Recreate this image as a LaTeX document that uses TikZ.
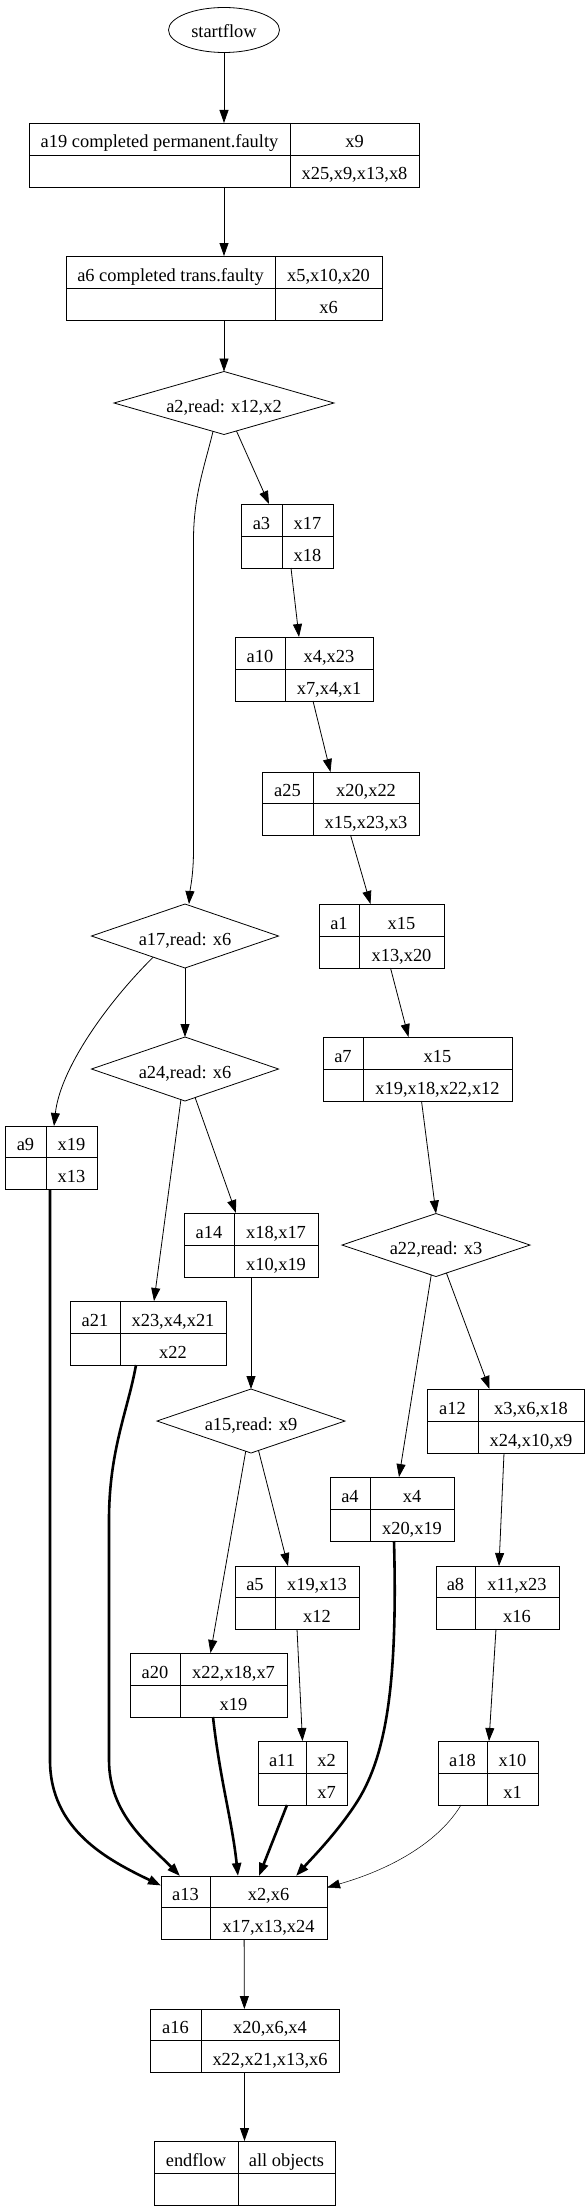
\documentclass[tikz,border=0pt]{standalone}
\usepackage{fontspec}
\setmainfont{Liberation Serif}
\usetikzlibrary{shapes.geometric,arrows.meta,calc}

\newcommand{\recnode}[9]{
	\node[rec, minimum width={(#4-#2)*1pt}, minimum height={(#5-#3)*1pt}] (#1) at ({(#2+#4)/2},{(#3+#5)/2}) {};
	\draw[cell] (#1.west) -- (#1.east);
	\draw[cell] (#6,#3) -- (#6,#5);
	\node[celltext] (#1l) at ({(#2+#6)/2},{(3*#3+#5)/4}) {#7};
	\node[celltext] (#1t) at ({(#6+#4)/2},{(3*#3+#5)/4}) {#8};
	\node[celltext] (#1b) at ({(#6+#4)/2},{(#3+3*#5)/4}) {#9};
}

\begin{document}
\begin{tikzpicture}[x=1pt, y=-1pt, font=\fontsize{18.4}{22}\selectfont,
		rec/.style={draw, line width=0.9pt, inner sep=0pt, outer sep=0pt},
		cell/.style={line width=0.9pt},
		celltext/.style={inner sep=0pt, text height=18pt, text depth=0pt},
		cond/.style={draw, shape=diamond, aspect=3, line width=0.8pt, inner sep=0pt, outer sep=0pt, text height=18pt, text depth=0pt},
		start/.style={draw, shape=ellipse, line width=0.8pt, inner sep=0pt, outer sep=0pt, text height=16pt, text depth=0pt},
		flow/.style={-{Triangle[length=13pt,width=9pt]}, line width=0.8pt},
		bold/.style={flow, line width=2.6pt},
		faint/.style={flow, line width=0.5pt}]
		\useasboundingbox (0,0) rectangle (585,2210);

		\node[start, minimum width=111pt, minimum height=45pt] (startflow) at (224,30) {startflow};

		\recnode{a19}{29}{123}{419}{187}{290}{a19 completed permanent.faulty}{x9}{x25,x9,x13,x8}
		\recnode{a6}{66}{256}{382}{320}{275}{a6 completed trans.faulty}{x5,x10,x20}{x6}
		\recnode{a3}{241}{504}{333}{568}{282}{a3}{x17}{x18}
		\recnode{a10}{235}{637}{373}{701}{285}{a10}{x4,x23}{x7,x4,x1}
		\recnode{a25}{262}{772}{419}{835}{313}{a25}{x20,x22}{x15,x23,x3}
		\recnode{a1}{319}{904}{444}{968}{359}{a1}{x15}{x13,x20}
		\recnode{a7}{323}{1037}{512}{1101}{363}{a7}{x15}{x19,x18,x22,x12}
		\recnode{a9}{5}{1126}{97}{1189}{46}{a9}{x19}{x13}
		\recnode{a14}{184}{1213}{318}{1277}{234}{a14}{x18,x17}{x10,x19}
		\recnode{a21}{70}{1301}{226}{1365}{120}{a21}{x23,x4,x21}{x22}
		\recnode{a12}{427}{1389}{584}{1453}{478}{a12}{x3,x6,x18}{x24,x10,x9}
		\recnode{a4}{330}{1477}{454}{1541}{370}{a4}{x4}{x20,x19}
		\recnode{a5}{235}{1566}{359}{1629}{275}{a5}{x19,x13}{x12}
		\recnode{a8}{436}{1566}{559}{1629}{475}{a8}{x11,x23}{x16}
		\recnode{a20}{130}{1653}{287}{1717}{180}{a20}{x22,x18,x7}{x19}
		\recnode{a11}{258}{1741}{347}{1805}{306}{a11}{x2}{x7}
		\recnode{a18}{438}{1741}{538}{1805}{487}{a18}{x10}{x1}
		\recnode{a13}{161}{1876}{327}{1939}{210}{a13}{x2,x6}{x17,x13,x24}
		\recnode{a16}{150}{2009}{339}{2072}{201}{a16}{x20,x6,x4}{x22,x21,x13,x6}
		\recnode{endflow}{154}{2141}{335}{2205}{238}{endflow}{all objects}{}

		\node[cond, minimum width=220pt, minimum height=63pt] (a2) at (224,403) {a2,read: x12,x2};
		\node[cond, minimum width=187pt, minimum height=64pt] (a17) at (185,936) {a17,read: x6};
		\node[cond, minimum width=187pt, minimum height=64pt] (a24) at (185,1069) {a24,read: x6};
		\node[cond, minimum width=188pt, minimum height=63pt] (a22) at (436,1245) {a22,read: x3};
		\node[cond, minimum width=188pt, minimum height=64pt] (a15) at (251,1421) {a15,read: x9};

		\draw[flow] (startflow) -- (a19);
		\draw[flow] (a19) -- (a6);
		\draw[flow] (a6) -- (a2);
		\draw[flow] (a2) -- ([xshift=-18pt]a3.north);
		\draw[flow] ([xshift=4pt]a3.south) -- ([xshift=-5pt]a10.north);
		\draw[flow] ([xshift=9pt]a10.south) -- ([xshift=-10pt]a25.north);
		\draw[flow] ([xshift=10pt]a25.south) -- ([xshift=-11pt]a1.north);
		\draw[flow] ([xshift=9pt]a1.south) -- ([xshift=-9pt]a7.north);
		\draw[flow] ([xshift=4pt]a7.south) -- (a22.north);
		\draw[flow] (a22) -- ([xshift=-16pt]a12.north);
		\draw[flow] (a22) -- ([xshift=7pt]a4.north);
		\draw[flow] ([xshift=-1.5pt]a12.south) -- ([xshift=1.5pt]a8.north);
		\draw[flow] ([xshift=-1.5pt]a8.south) -- ([xshift=1pt]a18.north);
		\draw[flow] (a5.south) -- (a11.north);
		\draw[flow] (a15) -- ([xshift=-9pt]a5.north);
		\draw[flow] (a15) -- ([xshift=2pt]a20.north);
		\draw[flow] (a14) -- (a15);
		\draw[flow] (a24) -- ([xshift=-15pt]a14.north);
		\draw[flow] (a24) -- ([xshift=6pt]a21.north);
		\draw[flow] (a17) -- (a24);
		\draw[flow] ($(a2.south)!0.1!(a2.west)$) .. controls (205,465) and (193.5,495) .. (193.5,540) -- (193.5,850) .. controls (193.5,875) and (190,890) .. ([xshift=4pt]a17.north);
		\draw[flow] ($(a17.south)!0.34!(a17.west)$) .. controls (105,1005) and (60,1070) .. ([xshift=3pt]a9.north);

		\draw[bold] ([xshift=-1pt]a9.south) -- (50,1760) .. controls (50,1830) and (108,1860) .. ([yshift=22pt]a13.west);
		\draw[bold] ([xshift=-12pt]a21.south) .. controls (128,1410) and (109,1450) .. (109,1520) -- (109,1760) .. controls (109,1815) and (150,1845) .. ([xshift=-64pt]a13.north);
		\draw[bold] ([xshift=4.5pt]a20.south) .. controls (220,1780) and (232,1820) .. ([xshift=-6pt]a13.north);
		\draw[bold] ([xshift=-15.5pt]a11.south) -- ([xshift=15pt]a13.north);
		\draw[bold] ([xshift=2pt]a4.south) .. controls (398,1690) and (385,1760) .. (355,1805) .. controls (335,1835) and (312,1858) .. ([xshift=52pt]a13.north);
		\draw[faint] ([xshift=-27pt]a18.south) .. controls (440,1840) and (395,1868) .. ([yshift=20pt]a13.east);

		\draw[flow] (a13) -- (a16);
		\draw[flow] (a16) -- (endflow);
	\end{tikzpicture}
\end{document}
